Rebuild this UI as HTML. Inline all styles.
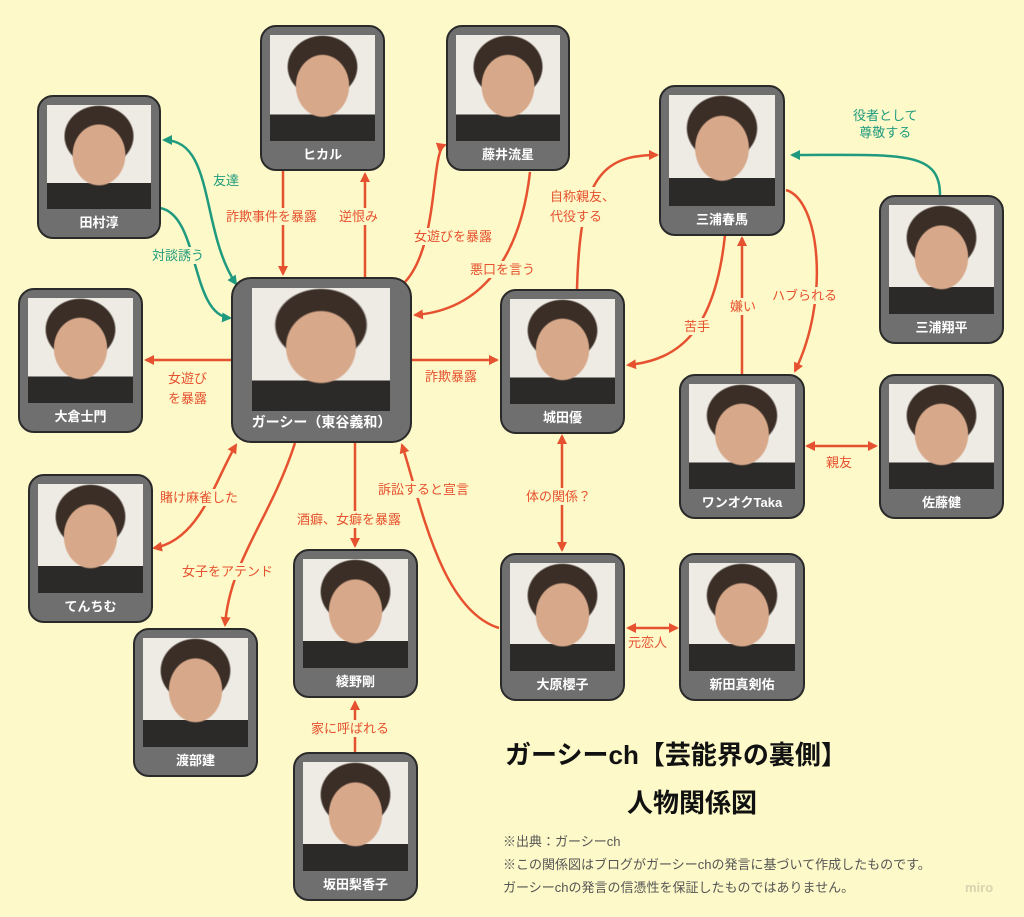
<!DOCTYPE html>
<html><head><meta charset="utf-8">
<style>
body{margin:0;width:1024px;height:917px;background:#fdf9c8;position:relative;overflow:hidden;font-family:"Liberation Sans","Noto Sans CJK JP",sans-serif}
.n{position:absolute;background:#6f6f6f;border:2px solid #2a2a2a;border-radius:16px;box-sizing:border-box}
.p{position:absolute;left:8px;right:8px;top:8px;bottom:28px;background:radial-gradient(ellipse 26% 30% at 50% 48%,#d8a88a 0 95%,transparent 100%),radial-gradient(ellipse 34% 30% at 50% 30%,#3a2e26 0 95%,transparent 100%),linear-gradient(#eeeae4 0 75%,#2c2a28 75%)}
.l{position:absolute;left:0;right:0;bottom:6px;text-align:center;color:#fff;font-weight:bold;font-size:13px}
.t{position:absolute;color:#e6512f;font-size:13px;background:#fdf9c8;white-space:nowrap;line-height:17px}
.g{color:#1f9a7e}
svg{position:absolute;left:0;top:0}
</style></head><body>
<svg width="1024" height="917">
<defs>
<marker id="r" markerWidth="10" markerHeight="10" refX="8" refY="5" orient="auto" markerUnits="userSpaceOnUse"><path d="M0,0L10,5L0,10z" fill="#e6512f"/></marker>
<marker id="gr" markerWidth="10" markerHeight="10" refX="8" refY="5" orient="auto" markerUnits="userSpaceOnUse"><path d="M0,0L10,5L0,10z" fill="#1f9a7e"/></marker>
<marker id="rs" markerWidth="10" markerHeight="10" refX="2" refY="5" orient="auto" markerUnits="userSpaceOnUse"><path d="M10,0L0,5L10,10z" fill="#e6512f"/></marker>
<marker id="gs" markerWidth="10" markerHeight="10" refX="2" refY="5" orient="auto" markerUnits="userSpaceOnUse"><path d="M10,0L0,5L10,10z" fill="#1f9a7e"/></marker>
</defs>
<g fill="none" stroke-width="2.5">
<path d="M236,284 C200,230 215,140 164,140" stroke="#1f9a7e" marker-end="url(#gr)" marker-start="url(#gs)"/>
<path d="M160,208 C200,215 190,315 230,318" stroke="#1f9a7e" marker-end="url(#gr)"/>
<path d="M940,195 C940,150 900,155 792,155" stroke="#1f9a7e" marker-end="url(#gr)"/>
<g stroke="#e6512f">
<path d="M283,170 L283,274" marker-end="url(#r)"/>
<path d="M365,277 L365,174" marker-end="url(#r)"/>
<path d="M402,285 C440,250 430,150 445,145" marker-end="url(#r)"/>
<path d="M530,172 C520,260 480,310 415,315" marker-end="url(#r)"/>
<path d="M411,360 L497,360" marker-end="url(#r)"/>
<path d="M231,360 L146,360" marker-end="url(#r)"/>
<path d="M577,289 C580,180 600,155 657,155" marker-end="url(#r)"/>
<path d="M725,235 C715,330 680,360 628,365" marker-end="url(#r)"/>
<path d="M742,374 L742,238" marker-end="url(#r)"/>
<path d="M786,190 C820,200 830,300 795,371" marker-end="url(#r)"/>
<path d="M807,446 L876,446" marker-end="url(#r)" marker-start="url(#rs)"/>
<path d="M562,436 L562,550" marker-end="url(#r)" marker-start="url(#rs)"/>
<path d="M628,628 L677,628" marker-end="url(#r)" marker-start="url(#rs)"/>
<path d="M499,628 C440,610 420,500 402,445" marker-end="url(#r)"/>
<path d="M355,443 L355,546" marker-end="url(#r)"/>
<path d="M154,548 C200,540 215,480 236,445" marker-end="url(#r)" marker-start="url(#rs)"/>
<path d="M295,443 C270,520 230,560 225,625" marker-end="url(#r)"/>
<path d="M355,752 L355,702" marker-end="url(#r)"/>
</g></g>
</svg>

<div class="n" style="left:37px;top:95px;width:124px;height:144px"><div class="p"></div><div class="l">田村淳</div></div>
<div class="n" style="left:260px;top:25px;width:125px;height:146px"><div class="p"></div><div class="l">ヒカル</div></div>
<div class="n" style="left:446px;top:25px;width:124px;height:146px"><div class="p"></div><div class="l">藤井流星</div></div>
<div class="n" style="left:659px;top:85px;width:126px;height:151px"><div class="p"></div><div class="l">三浦春馬</div></div>
<div class="n" style="left:879px;top:195px;width:125px;height:149px"><div class="p"></div><div class="l">三浦翔平</div></div>
<div class="n" style="left:18px;top:288px;width:125px;height:145px"><div class="p"></div><div class="l">大倉士門</div></div>
<div class="n" style="left:231px;top:277px;width:181px;height:166px;border-radius:20px"><div class="p" style="left:19px;right:20px;top:9px;bottom:30px"></div><div class="l" style="font-size:14px;bottom:9px">ガーシー（東谷義和）</div></div>
<div class="n" style="left:500px;top:289px;width:125px;height:145px"><div class="p"></div><div class="l">城田優</div></div>
<div class="n" style="left:679px;top:374px;width:126px;height:145px"><div class="p"></div><div class="l">ワンオクTaka</div></div>
<div class="n" style="left:879px;top:374px;width:125px;height:145px"><div class="p"></div><div class="l">佐藤健</div></div>
<div class="n" style="left:28px;top:474px;width:125px;height:149px"><div class="p"></div><div class="l">てんちむ</div></div>
<div class="n" style="left:293px;top:549px;width:125px;height:149px"><div class="p"></div><div class="l">綾野剛</div></div>
<div class="n" style="left:500px;top:553px;width:125px;height:148px"><div class="p"></div><div class="l">大原櫻子</div></div>
<div class="n" style="left:679px;top:553px;width:126px;height:148px"><div class="p"></div><div class="l">新田真剣佑</div></div>
<div class="n" style="left:133px;top:628px;width:125px;height:149px"><div class="p"></div><div class="l">渡部建</div></div>
<div class="n" style="left:293px;top:752px;width:125px;height:149px"><div class="p"></div><div class="l">坂田梨香子</div></div>

<div class="t g" style="left:213px;top:172px">友達</div>
<div class="t g" style="left:152px;top:247px">対談誘う</div>
<div class="t g" style="left:853px;top:107px;text-align:center">役者として<br>尊敬する</div>
<div class="t" style="left:226px;top:208px">詐欺事件を暴露</div>
<div class="t" style="left:339px;top:208px">逆恨み</div>
<div class="t" style="left:414px;top:228px">女遊びを暴露</div>
<div class="t" style="left:470px;top:261px">悪口を言う</div>
<div class="t" style="left:425px;top:368px">詐欺暴露</div>
<div class="t" style="left:168px;top:369px;line-height:20px">女遊び<br>を暴露</div>
<div class="t" style="left:550px;top:187px;line-height:20px">自称親友、<br>代役する</div>
<div class="t" style="left:684px;top:318px">苦手</div>
<div class="t" style="left:730px;top:298px">嫌い</div>
<div class="t" style="left:772px;top:287px">ハブられる</div>
<div class="t" style="left:826px;top:454px">親友</div>
<div class="t" style="left:526px;top:488px">体の関係？</div>
<div class="t" style="left:628px;top:634px">元恋人</div>
<div class="t" style="left:378px;top:481px">訴訟すると宣言</div>
<div class="t" style="left:297px;top:511px">酒癖、女癖を暴露</div>
<div class="t" style="left:160px;top:489px">賭け麻雀した</div>
<div class="t" style="left:182px;top:563px">女子をアテンド</div>
<div class="t" style="left:311px;top:720px">家に呼ばれる</div>

<div style="position:absolute;left:505px;top:735px;font-size:26px;font-weight:bold;color:#111;white-space:nowrap">ガーシーch【芸能界の裏側】</div>
<div style="position:absolute;left:627px;top:783px;font-size:26px;font-weight:bold;color:#111">人物関係図</div>
<div style="position:absolute;left:503px;top:830px;font-size:13px;color:#555;line-height:23px;white-space:nowrap">※出典：ガーシーch<br>※この関係図はブログがガーシーchの発言に基づいて作成したものです。<br>ガーシーchの発言の信憑性を保証したものではありません。</div>
<div style="position:absolute;left:965px;top:880px;font-size:13px;color:#d8d4b0;font-weight:bold">miro</div>
</body></html>
